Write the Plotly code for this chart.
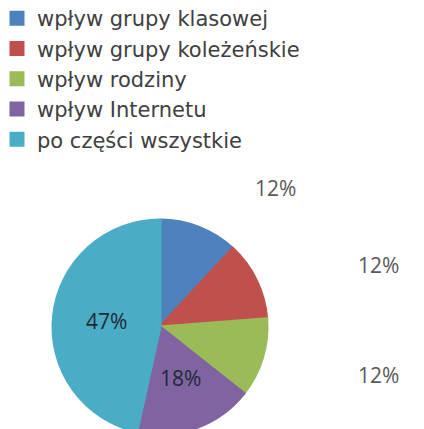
import plotly.graph_objects as go

categories = ["wpływ grupy klasowej", "wpływ grupy koleżeńskie", "wpływ rodziny",
              "wpływ Internetu", "po części wszystkie"]
values = [12, 12, 12, 18, 47]
colors = ["#4F81BD", "#C0504D", "#9BBB59", "#8064A2", "#4BACC6"]

W, H = 424, 445
FONT = "Open Sans"
LEG_FONT = "DejaVu Sans"

fig = go.Figure(go.Pie(
    labels=categories,
    values=values,
    sort=False,
    direction="clockwise",
    rotation=0,
    marker=dict(colors=colors, line=dict(width=3, color=colors)),
    texttemplate="%{value}%",
    textposition=["none", "none", "none", "none", "inside"],
    insidetextorientation="horizontal",
    insidetextfont=dict(family=FONT, size=21, color="#1F2A36"),
    domain=dict(x=[53 / W, 267 / W], y=[1 - 434 / H, 1 - 220 / H]),
    hoverinfo="label+value",
))

# labels placed where the reference puts them (small slices outside, purple inside)
label_pos = [(275, 188), (378, 265), (378, 375), (180, 378)]
label_col = ["#595959", "#595959", "#595959", "#1F2A36"]
for v, (px, py), c in zip(values[:4], label_pos, label_col):
    fig.add_annotation(x=px / W, y=1 - py / H, xref="paper", yref="paper",
                       xanchor="center", yanchor="middle",
                       text=f"{v}%", showarrow=False,
                       font=dict(family=FONT, size=21, color=c))

fig.update_layout(
    width=W, height=H,
    margin=dict(l=0, r=0, t=0, b=0, autoexpand=False),
    paper_bgcolor="white",
    showlegend=True,
    legend=dict(x=-3 / W, y=1 + 2 / H, xanchor="left", yanchor="top",
                font=dict(family=LEG_FONT, size=21, color="#404040"),
                bgcolor="rgba(0,0,0,0)", itemwidth=30, tracegroupgap=0),
)

fig.write_html("out.html",
               config={"displayModeBar": False},
               post_script="document.body.style.margin='0';document.body.style.overflow='hidden';")
